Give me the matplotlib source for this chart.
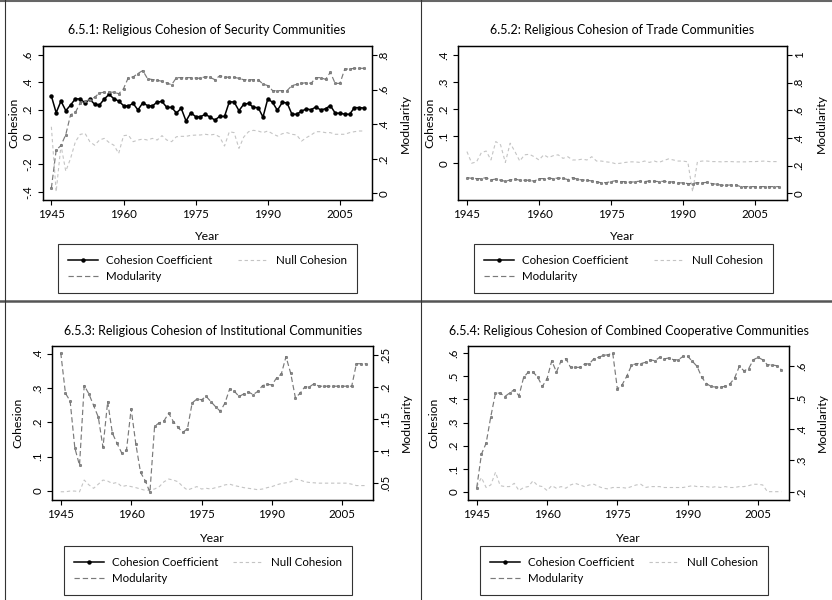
import matplotlib
matplotlib.use('Agg')
import matplotlib.pyplot as plt
from matplotlib.lines import Line2D
from matplotlib.ticker import FuncFormatter

plt.rcParams['font.family'] = ['Lato', 'DejaVu Sans']

years = list(range(1945, 2011))

# 6.5.1 security communities
sec_coh = [0.300, 0.178, 0.263, 0.193, 0.234, 0.280, 0.278, 0.250, 0.276, 0.240,
           0.234, 0.278, 0.312, 0.280, 0.263, 0.230, 0.227, 0.246, 0.198, 0.250,
           0.230, 0.227, 0.256, 0.260, 0.217, 0.217, 0.176, 0.210, 0.117, 0.178,
           0.149, 0.149, 0.166, 0.146, 0.124, 0.151, 0.151, 0.258, 0.256, 0.193,
           0.240, 0.246, 0.217, 0.215, 0.146, 0.280, 0.253, 0.195, 0.253, 0.250,
           0.168, 0.166, 0.190, 0.205, 0.200, 0.220, 0.198, 0.207, 0.230, 0.176,
           0.173, 0.168, 0.166, 0.215, 0.215, 0.212]
sec_null = [0.075, -0.400, -0.060, -0.250, -0.156, -0.034, 0.019, 0.027, -0.034, -0.060,
            -0.022, -0.010, -0.040, -0.060, -0.120, 0.010, 0.014, -0.034, -0.022, -0.015,
            -0.022, -0.010, -0.022, 0.010, -0.022, -0.034, 0.002, 0.005, 0.005, 0.012,
            0.014, 0.015, 0.020, 0.015, 0.020, 0.000, -0.066, 0.039, 0.032, -0.083,
            0.000, 0.039, 0.049, 0.044, 0.032, 0.044, 0.024, 0.007, 0.024, 0.032,
            0.020, 0.015, -0.030, -0.005, 0.015, 0.039, 0.039, 0.032, 0.032, 0.020,
            0.020, 0.020, 0.032, 0.039, 0.044, 0.044]
sec_mod = [0.030, 0.250, 0.277, 0.340, 0.455, 0.468, 0.523, 0.533, 0.542, 0.556,
           0.580, 0.585, 0.585, 0.585, 0.576, 0.605, 0.669, 0.673, 0.693, 0.710,
           0.663, 0.658, 0.654, 0.648, 0.638, 0.628, 0.669, 0.669, 0.669, 0.669,
           0.667, 0.665, 0.675, 0.671, 0.657, 0.680, 0.673, 0.671, 0.671, 0.665,
           0.657, 0.657, 0.657, 0.657, 0.632, 0.623, 0.594, 0.594, 0.594, 0.594,
           0.623, 0.630, 0.636, 0.640, 0.636, 0.669, 0.669, 0.659, 0.700, 0.636,
           0.636, 0.719, 0.719, 0.723, 0.723, 0.723]

# 6.5.2 trade communities
trade_null = [0.043, 0.000, 0.005, 0.039, 0.045, 0.012, 0.080, 0.068, 0.003, 0.074,
              0.043, 0.008, 0.031, 0.033, 0.024, 0.012, 0.031, 0.021, 0.028, 0.031,
              0.018, 0.024, 0.012, 0.012, 0.015, 0.012, 0.024, 0.008, 0.008, 0.005,
              0.003, -0.002, 0.000, 0.003, 0.005, 0.005, 0.003, 0.008, 0.003, 0.008,
              0.003, 0.010, 0.016, 0.012, 0.008, 0.008, 0.005, -0.105, 0.005, 0.008,
              0.008, 0.006, 0.006, 0.005, 0.006, 0.006, 0.005, 0.005, 0.005, 0.006,
              0.006, 0.007, 0.008, 0.006, 0.006, 0.006]
trade_mod = [0.113, 0.108, 0.106, 0.106, 0.113, 0.096, 0.103, 0.094, 0.087, 0.096,
             0.103, 0.094, 0.094, 0.094, 0.087, 0.106, 0.106, 0.108, 0.106, 0.110,
             0.108, 0.099, 0.113, 0.101, 0.096, 0.094, 0.089, 0.084, 0.075, 0.077,
             0.084, 0.091, 0.084, 0.084, 0.079, 0.084, 0.087, 0.084, 0.089, 0.087,
             0.084, 0.087, 0.082, 0.082, 0.075, 0.075, 0.070, 0.070, 0.077, 0.075,
             0.079, 0.070, 0.065, 0.058, 0.058, 0.060, 0.060, 0.048, 0.048, 0.048,
             0.048, 0.048, 0.048, 0.048, 0.048, 0.048]

# 6.5.3 institutional communities
inst_null = [-0.002, -0.002, 0.000, 0.000, -0.002, 0.032, 0.018, 0.008, 0.020, 0.032,
             0.029, 0.022, 0.025, 0.013, 0.016, 0.013, 0.010, 0.006, 0.002, 0.003,
             0.006, 0.013, 0.027, 0.035, 0.032, 0.027, 0.013, 0.003, 0.008, 0.013,
             0.006, 0.008, 0.006, 0.010, 0.013, 0.018, 0.020, 0.016, 0.013, 0.010,
             0.008, 0.006, 0.004, 0.006, 0.010, 0.013, 0.018, 0.022, 0.024, 0.027,
             0.035, 0.032, 0.027, 0.025, 0.024, 0.023, 0.023, 0.023, 0.023, 0.023,
             0.023, 0.023, 0.020, 0.016, 0.016, 0.016]
inst_mod = [0.253, 0.190, 0.178, 0.105, 0.078, 0.202, 0.189, 0.171, 0.153, 0.106,
            0.177, 0.128, 0.112, 0.097, 0.101, 0.166, 0.111, 0.067, 0.054, 0.036,
            0.139, 0.144, 0.147, 0.159, 0.146, 0.137, 0.129, 0.135, 0.175, 0.181,
            0.180, 0.185, 0.177, 0.169, 0.162, 0.175, 0.197, 0.193, 0.185, 0.189,
            0.192, 0.188, 0.193, 0.202, 0.204, 0.203, 0.214, 0.220, 0.247, 0.221,
            0.183, 0.190, 0.200, 0.200, 0.205, 0.201, 0.201, 0.201, 0.201, 0.201,
            0.201, 0.201, 0.201, 0.236, 0.236, 0.236]

# 6.5.4 combined cooperative communities
comb_null = [0.023, 0.062, 0.019, 0.030, 0.085, 0.027, 0.023, 0.023, 0.037, 0.006,
             0.019, 0.023, 0.048, 0.027, 0.023, 0.006, 0.027, 0.016, 0.023, 0.016,
             0.030, 0.037, 0.030, 0.023, 0.030, 0.033, 0.023, 0.016, 0.013, 0.019,
             0.019, 0.019, 0.016, 0.023, 0.030, 0.033, 0.019, 0.023, 0.023, 0.023,
             0.019, 0.019, 0.019, 0.019, 0.019, 0.023, 0.027, 0.023, 0.023, 0.023,
             0.019, 0.023, 0.019, 0.023, 0.019, 0.019, 0.023, 0.023, 0.027, 0.033,
             0.033, 0.030, 0.001, 0.001, 0.001, 0.001]
comb_mod = [0.213, 0.320, 0.355, 0.440, 0.515, 0.515, 0.504, 0.515, 0.526, 0.506,
            0.565, 0.582, 0.582, 0.566, 0.536, 0.561, 0.618, 0.582, 0.618, 0.625,
            0.597, 0.597, 0.597, 0.608, 0.608, 0.625, 0.629, 0.635, 0.637, 0.643,
            0.528, 0.541, 0.569, 0.603, 0.609, 0.609, 0.613, 0.621, 0.618, 0.629,
            0.624, 0.627, 0.621, 0.621, 0.632, 0.632, 0.616, 0.600, 0.565, 0.545,
            0.536, 0.534, 0.533, 0.537, 0.544, 0.563, 0.600, 0.586, 0.593, 0.621,
            0.629, 0.621, 0.605, 0.605, 0.602, 0.589]

year_ticks = [1945, 1960, 1975, 1990, 2005]
legend_labels = ['Cohesion Coefficient', 'Modularity', 'Null Cohesion']


def stata_fmt(v, pos=None):
    s = ('%.2f' % v).rstrip('0').rstrip('.')
    if s in ('', '-0'):
        s = '0'
    if s.startswith('0.'):
        s = s[1:]
    if s.startswith('-0.'):
        s = '-' + s[2:]
    return s


W, H = 832, 600
fig = plt.figure(figsize=(W / 100, H / 100), dpi=100)


def fx(px):
    return px / W


def fy(py):
    return 1 - py / H


# panel layout in pixels: axes box, title y, label x positions, legend box
panels = [
    dict(title='6.5.1: Religious Cohesion of Security Communities',
         box=(42.7, 46, 371.7, 200.3), coh=sec_coh, null=sec_null, mod=sec_mod,
         ylim=(-0.463, 0.666), yticks=[-0.4, -0.2, 0, 0.2, 0.4, 0.6],
         rlim=(-0.04, 0.852), rticks=[0, 0.2, 0.4, 0.6, 0.8],
         title_y=30, year_y=237, lab_l=14, lab_r=405, leg=(52, 246, 363, 291)),
    dict(title='6.5.2: Religious Cohesion of Trade Communities',
         box=(458.3, 46, 786.7, 200.3), coh=None, null=trade_null, mod=trade_mod,
         ylim=(-0.137, 0.433), yticks=[0, 0.1, 0.2, 0.3, 0.4],
         rlim=(-0.051, 1.065), rticks=[0, 0.2, 0.4, 0.6, 0.8, 1],
         title_y=30, year_y=237, lab_l=430, lab_r=821, leg=(468, 246, 779, 291)),
    dict(title='6.5.3: Religious Cohesion of Institutional Communities',
         box=(52.3, 345.7, 373.3, 500), coh=None, null=inst_null, mod=inst_mod,
         ylim=(-0.026, 0.423), yticks=[0, 0.1, 0.2, 0.3, 0.4],
         rlim=(0.024, 0.264), rticks=[0.05, 0.1, 0.15, 0.2, 0.25],
         title_y=331, year_y=538, lab_l=18, lab_r=406, leg=(58, 547, 358, 594)),
    dict(title='6.5.4: Religious Cohesion of Combined Cooperative Communities',
         box=(468.3, 345.7, 789, 500), coh=None, null=comb_null, mod=comb_mod,
         ylim=(-0.035, 0.632), yticks=[0, 0.1, 0.2, 0.3, 0.4, 0.5, 0.6],
         rlim=(0.174, 0.666), rticks=[0.2, 0.3, 0.4, 0.5, 0.6],
         title_y=331, year_y=538, lab_l=434, lab_r=822, leg=(474, 547, 774, 594)),
]

coh_style = dict(color='black', lw=1.1, marker='o', ms=2.2)
null_style = dict(color='#c4c4c4', lw=0.8, ls=(0, (3, 2.5)))
mod_style = dict(color='#7a7a7a', lw=0.85, ls=(0, (4.5, 2.5)))

for p in panels:
    x0, y0, x1, y1 = p['box']
    ax = fig.add_axes([fx(x0), fy(y1), (x1 - x0) / W, (y1 - y0) / H])
    ax2 = ax.twinx()

    if p['coh'] is not None:
        ax.plot(years, p['coh'], **coh_style)
    ax.plot(years, p['null'], **null_style)
    ax2.plot(years, p['mod'], marker='o', ms=1.8, mfc='#8a8a8a', mec='#666666',
             mew=0.4, **mod_style)

    ax.set_xlim(1943.2, 2011.6)
    ax.set_xticks(year_ticks)
    ax.set_ylim(*p['ylim'])
    ax.set_yticks(p['yticks'])
    ax2.set_ylim(*p['rlim'])
    ax2.set_yticks(p['rticks'])
    ax.yaxis.set_major_formatter(FuncFormatter(stata_fmt))
    ax2.yaxis.set_major_formatter(FuncFormatter(stata_fmt))

    for a in (ax, ax2):
        for s in a.spines.values():
            s.set_linewidth(0.9)
    ax.tick_params(axis='x', direction='out', length=3.6, width=0.8, pad=3, labelsize=8.3)
    ax.tick_params(axis='y', direction='out', length=3.6, width=0.8, pad=3,
                   labelsize=8.3, labelrotation=90)
    ax2.tick_params(axis='y', direction='out', length=3.6, width=0.8, pad=1.5,
                    labelsize=8.3, labelrotation=90)
    for lab in ax.get_yticklabels() + ax2.get_yticklabels():
        lab.set_va('center')

    cx = (x0 + x1) / 2
    cy = (y0 + y1) / 2
    fig.text(fx(cx), fy(p['title_y']), p['title'], ha='center', va='center', fontsize=9)
    fig.text(fx(cx), fy(p['year_y']), 'Year', ha='center', va='center', fontsize=8.8)
    fig.text(fx(p['lab_l']), fy(cy), 'Cohesion', rotation=90, ha='center', va='center',
             fontsize=8.8)
    fig.text(fx(p['lab_r']), fy(cy), 'Modularity', rotation=90, ha='center', va='center',
             fontsize=8.8)

    handles = [Line2D([], [], **coh_style),
               Line2D([], [], **mod_style),
               Line2D([], [], **null_style)]
    lx0, ly0, lx1, ly1 = p['leg']
    leg = fig.legend(handles, legend_labels, ncol=2, loc='center',
                     bbox_to_anchor=(fx(lx0), fy(ly1), (lx1 - lx0) / W, (ly1 - ly0) / H),
                     mode='expand', fontsize=8.3, frameon=True, fancybox=False,
                     handlelength=2.6, handletextpad=0.7, borderpad=0.9,
                     labelspacing=0.5, columnspacing=1.0)
    leg.get_frame().set_edgecolor('black')
    leg.get_frame().set_linewidth(0.8)

# panel frame lines
fig.add_artist(Line2D([0, 1], [fy(1), fy(1)], transform=fig.transFigure, color='#666666', lw=1.5))
fig.add_artist(Line2D([0, 1], [fy(301.5), fy(301.5)], transform=fig.transFigure, color='#555555', lw=1.8))
fig.add_artist(Line2D([fx(5), fx(5)], [0, 1], transform=fig.transFigure, color='#333333', lw=0.8))
fig.add_artist(Line2D([fx(421), fx(421)], [0, 1], transform=fig.transFigure, color='#333333', lw=0.8))

fig.savefig('out.png', dpi=100)
